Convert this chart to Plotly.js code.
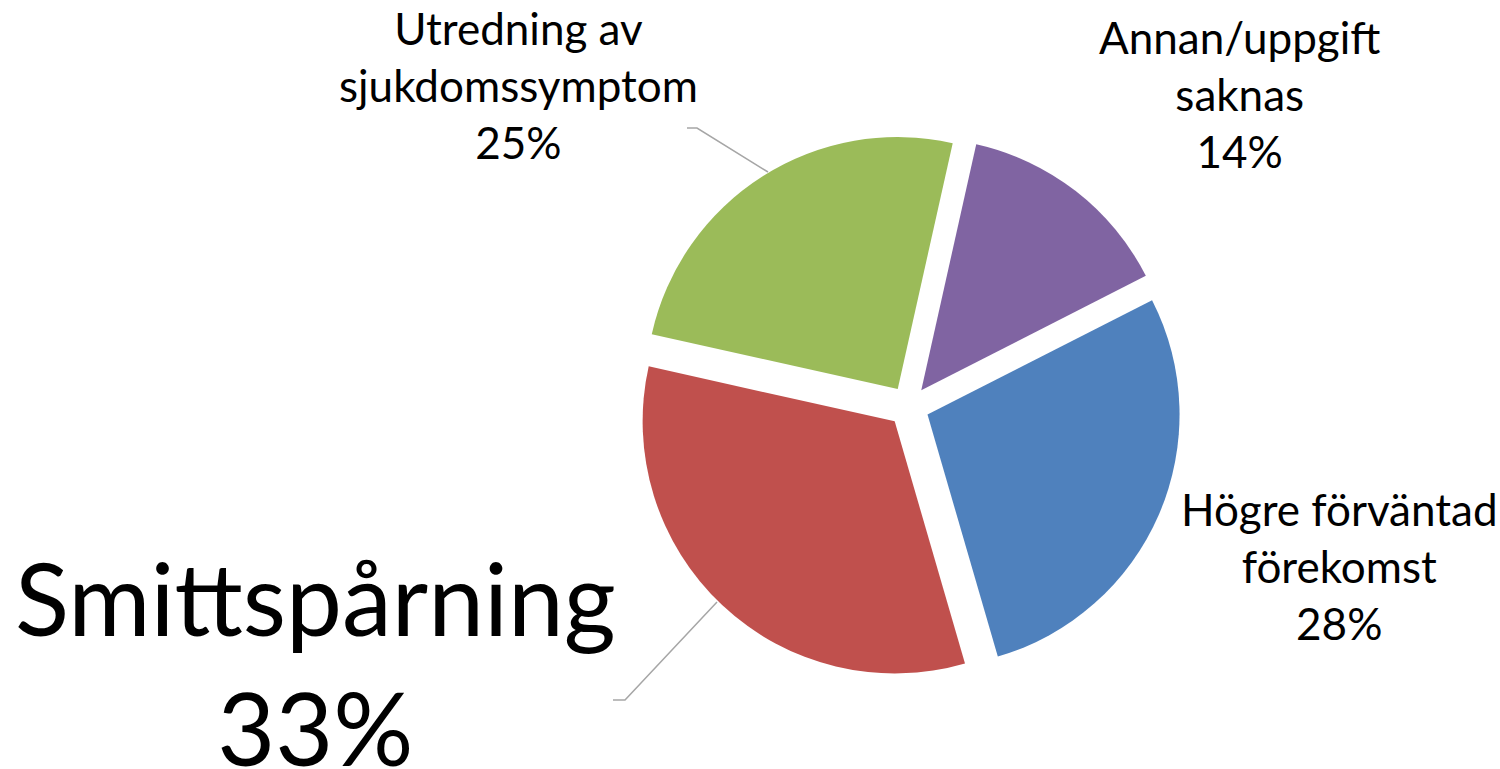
<!DOCTYPE html>
<html>
<head>
<meta charset="utf-8">
<script src="https://cdn.plot.ly/plotly-3.0.1.min.js"></script>
<style>html,body{margin:0;padding:0;background:#fff;}#chart{width:1500px;height:769px;}</style>
</head>
<body>
<div id="chart"></div>
<script>
const categories = ["Högre förväntad förekomst", "Smittspårning", "Utredning av sjukdomssymptom", "Annan/uppgift saknas"];
const shares = [28, 33, 25, 14];
const sliceColors = ["#4F81BD", "#C0504D", "#9BBB59", "#8064A2"];
const labelLines = [
  ["Högre förväntad", "förekomst"],
  ["Smittspårning"],
  ["Utredning av", "sjukdomssymptom"],
  ["Annan/uppgift", "saknas"]
];

const W = 1500, H = 769;
const px = x => x / W;
const py = y => 1 - y / H;
const FONT = "Lato, 'Open Sans', sans-serif";

const labelPos = [
  {x: 1339, y: 566, size: 44},
  {x: 315, y: 662, size: 100},
  {x: 518, y: 85, size: 44},
  {x: 1239, y: 94, size: 44}
];

const annotations = categories.map((c, i) => ({
  text: labelLines[i].join("<br>") + "<br>" + shares[i] + "%",
  x: px(labelPos[i].x), y: py(labelPos[i].y),
  xref: "paper", yref: "paper",
  xanchor: "center", yanchor: "middle",
  showarrow: false,
  font: {family: FONT, size: labelPos[i].size, color: "#000"},
  align: "center"
}));

const lineStyle = {color: "#A6A6A6", width: 1.5};
const shapes = [
  {type: "path", xref: "paper", yref: "paper",
   path: `M ${px(687)} ${py(128)} L ${px(697)} ${py(128)} L ${px(768)} ${py(172)}`, line: lineStyle},
  {type: "path", xref: "paper", yref: "paper",
   path: `M ${px(613)} ${py(700)} L ${px(625)} ${py(700)} L ${px(717)} ${py(602)}`, line: lineStyle}
];

const data = [{
  type: "pie",
  labels: categories,
  values: shares,
  marker: {colors: sliceColors, line: {width: 0}},
  sort: false,
  direction: "clockwise",
  rotation: 63,
  pull: 0.0813,
  textinfo: "none",
  hoverinfo: "none",
  domain: {x: [0.4241, 0.7875], y: [0.1171, 0.8259]}
}];

const layout = {
  width: W, height: H,
  margin: {l: 0, r: 0, t: 0, b: 0},
  showlegend: false,
  paper_bgcolor: "#fff",
  plot_bgcolor: "#fff",
  annotations: annotations,
  shapes: shapes
};

Plotly.newPlot("chart", data, layout, {displayModeBar: false, staticPlot: true});
</script>
</body>
</html>
